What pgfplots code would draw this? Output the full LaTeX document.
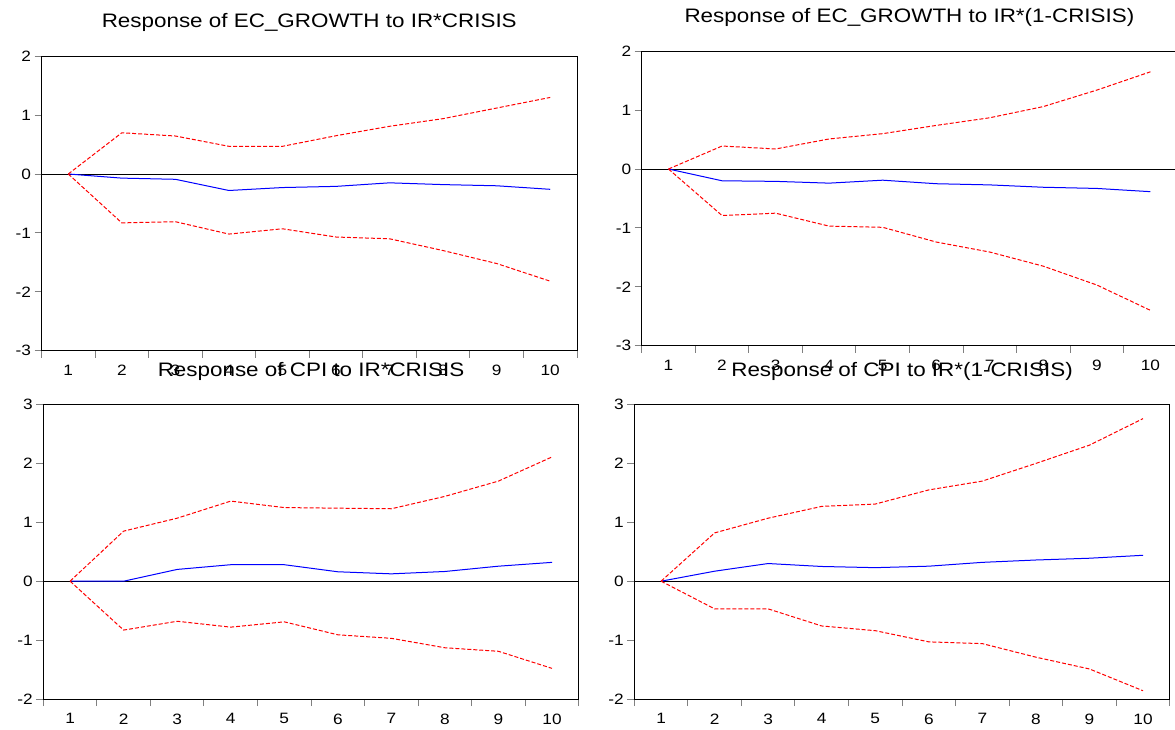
\documentclass[border=0pt]{standalone}
\usepackage{fontspec}
\setmainfont{Liberation Sans}[FakeStretch=1.15]
\usepackage{pgfplots}
\usepackage{pgfplotstable}
\pgfplotsset{compat=1.18}

% impulse responses: horizon, response, upper band, lower band
\pgfplotstableread{
h resp up lo
1 0 0 0
2 -0.07 0.70 -0.83
3 -0.09 0.645 -0.81
4 -0.28 0.47 -1.02
5 -0.23 0.47 -0.93
6 -0.21 0.65 -1.07
7 -0.15 0.81 -1.10
8 -0.18 0.94 -1.30
9 -0.20 1.12 -1.52
10 -0.26 1.30 -1.82
}\growthcrisis
\pgfplotstableread{
h resp up lo
1 0 0 0
2 -0.20 0.39 -0.79
3 -0.21 0.34 -0.75
4 -0.24 0.51 -0.97
5 -0.19 0.60 -0.99
6 -0.25 0.74 -1.24
7 -0.27 0.87 -1.41
8 -0.31 1.06 -1.65
9 -0.33 1.34 -1.97
10 -0.385 1.65 -2.40
}\growthnocrisis
\pgfplotstableread{
h resp up lo
1 0 0 0
2 0.0 0.85 -0.83
3 0.20 1.07 -0.68
4 0.28 1.36 -0.78
5 0.28 1.25 -0.69
6 0.16 1.24 -0.91
7 0.125 1.23 -0.97
8 0.165 1.44 -1.13
9 0.255 1.70 -1.19
10 0.32 2.11 -1.48
}\cpicrisis
\pgfplotstableread{
h resp up lo
1 0 0 0
2 0.17 0.82 -0.47
3 0.30 1.07 -0.47
4 0.25 1.27 -0.76
5 0.23 1.31 -0.84
6 0.255 1.55 -1.03
7 0.32 1.70 -1.06
8 0.36 2.00 -1.29
9 0.39 2.31 -1.49
10 0.44 2.76 -1.86
}\cpinocrisis

\pgfplotsset{
  irf/.style={
    scale only axis,
    anchor=south west,
    width=535.5pt, height=294.5pt,
    xmin=0.5, xmax=10.5,
    xtick={1,...,10},
    xticklabels={1,2,3,4,5,6,7,8,9,10},
    minor xtick={0.5,1.5,...,10.5},
    major x tick style={draw=none},
    xtick pos=bottom, ytick pos=left,
    tick align=outside,
    major tick length=7pt,
    minor tick length=7pt,
    tick style={gray, line width=1pt},
    axis line style={line width=1pt},
    ticklabel style={font=\fontsize{15}{18}\selectfont},
    xticklabel style={yshift=-4pt},
    title style={font=\fontsize{19.5}{22}\selectfont, at={(0.5,1)}, anchor=base, yshift=22.5pt},
  },
  zero/.style={black, line width=1pt},
  resp/.style={blue, line width=1pt},
  band/.style={red, line width=1pt, dash pattern=on 4pt off 2pt},
}

\newcommand{\panel}[1]{%
  \addplot[zero] coordinates {(0.5,0) (10.5,0)};
  \addplot[resp] table[x=h, y=resp] {#1};
  \addplot[band] table[x=h, y=up] {#1};
  \addplot[band] table[x=h, y=lo] {#1};
}

\begin{document}
\begin{tikzpicture}
\useasboundingbox (0,0) rectangle (1175pt,729pt);

\begin{axis}[irf, at={(41.5pt,378.3pt)},
  title={Response of EC\_GROWTH to IR*CRISIS},
  ymin=-3, ymax=2, ytick={-3,...,2}, yticklabels={-3,-2,-1,0,1,2}]
\panel{\growthcrisis}
\end{axis}

\begin{axis}[irf, at={(641.7pt,383.3pt)},
  title={Response of EC\_GROWTH to IR*(1-CRISIS)},
  ymin=-3, ymax=2, ytick={-3,...,2}, yticklabels={-3,-2,-1,0,1,2}]
\panel{\growthnocrisis}
\end{axis}

\begin{axis}[irf, at={(43.3pt,30pt)},
  title={Response of CPI to IR*CRISIS},
  ymin=-2, ymax=3, ytick={-2,...,3}, yticklabels={-2,-1,0,1,2,3}]
\panel{\cpicrisis}
\end{axis}

\begin{axis}[irf, at={(634.3pt,30pt)},
  title={Response of CPI to IR*(1-CRISIS)},
  ymin=-2, ymax=3, ytick={-2,...,3}, yticklabels={-2,-1,0,1,2,3}]
\panel{\cpinocrisis}
\end{axis}
\end{tikzpicture}
\end{document}
